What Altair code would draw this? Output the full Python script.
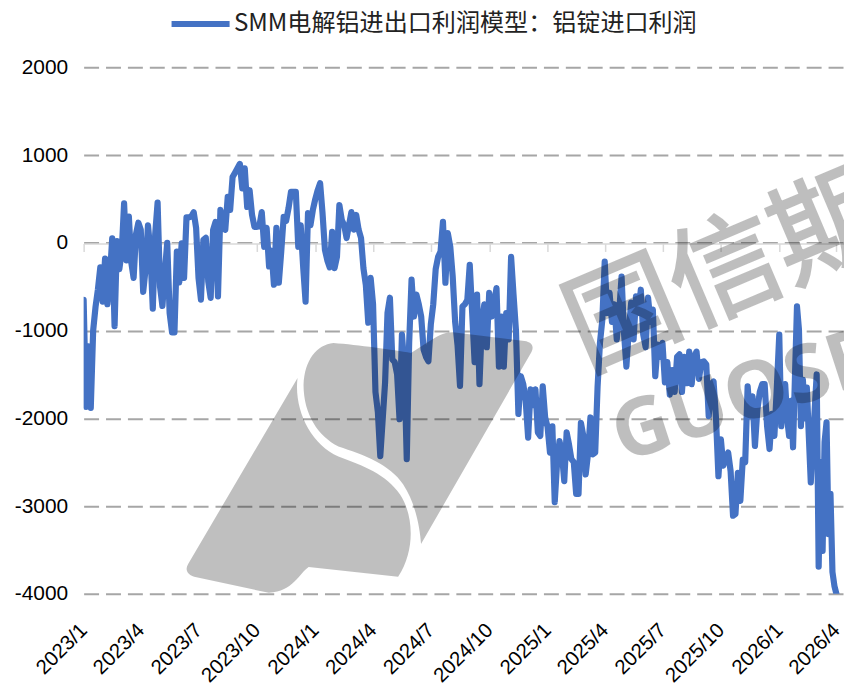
import altair as alt
import pandas as pd

title_text = "SMM电解铝进出口利润模型：铝锭进口利润"
tick_months = ["2023-01-01","2023-04-01","2023-07-01","2023-10-01","2024-01-01","2024-04-01","2024-07-01",
               "2024-10-01","2025-01-01","2025-04-01","2025-07-01","2025-10-01","2026-01-01","2026-04-01"]
y_ticks = [2000,1000,0,-1000,-2000,-3000,-4000]

q01 = [-650,-1870,-1180,-1880,-1000,-730,-530,-280,-670,-180,-700,-400,50,-950,20,-300,-100,450,-200,300,-220,-400,100,230]
q02 = [150,-560,-300,200,-100,-750,100,460,-500,-720,-330,0,-800,-1020,-1020,-100,-450,-5,-400,290,290,300,350,170]
q03 = [-400,-648,34,57,-440,-627,148,239,-610,375,200,148,523,375,750,800,850,900,620,850,409,600,318,182]
q04 = [182,190,350,-45,170,-270,-90,-477,170,-455,-100,295,250,395,580,580,580,-45,200,-270,-670,340,200,375]
q05 = [500,600,680,340,-80,-200,-280,125,-288,-160,430,260,200,55,200,350,150,318,150,55,-290,-480,-910,-400]
q06 = [-700,-1700,-1930,-2430,-2010,-1590,-800,-625,-1330,-1360,-1500,-2010,-1045,-1400,-2465,-1140,-420,-840,-590,-700,-840,-1215,-1300,-1350]
q07 = [-930,-700,-300,-160,-100,240,-455,110,-45,-385,-900,-1170,-1630,-725,-700,-650,-250,-800,-1360,-590,-1610,-900,-700,-1190]
q08 = [-570,-840,-700,-515,-1410,-840,-1410,-800,-1100,-160,-590,-1000,-1950,-1520,-1610,-1800,-2220,-1670,-1850,-1670,-2160,-2200,-1635,-1990]
q09 = [-2100,-2390,-2090,-2955,-2500,-2260,-2400,-2715,-2160,-2300,-2465,-2500,-2860,-2860,-2050,-2200,-2640,-2400,-1990,-2410,-2390,-1640,-1140,-875]
q10 = [-215,-800,-570,-900,-700,-1100,-800,-385,-1020,-1410,-1000,-680,-1100,-610,-800,-534,-1045,-1190,-625,-900,-760,-1520,-1160,-1300]
q11 = [-1140,-1590,-1360,-1730,-1450,-1700,-1300,-1270,-1700,-1300,-1600,-1240,-1610,-1300,-1240,-1550,-1360,-1350,-1385,-1975,-1610,-1580,-2000,-2660]
q12 = [-2240,-2540,-2450,-2390,-2600,-3110,-3090,-2620,-2940,-2470,-2500,-1635,-1975,-1750,-2315,-1900,-1700,-1610,-1610,-2090,-2350,-1950,-2200,-1650]
q13 = [-1045,-2090,-1700,-1610,-2000,-2200,-1800,-2330,-1500,-725,-990,-2090,-1560,-2000,-1650,-2200,-2730,-2300,-1900,-1500,-3690,-2500,-3510,-2270,-2045,-3320,-2860,-3750,-3910,-4000]
quarters = [q01,q02,q03,q04,q05,q06,q07,q08,q09,q10,q11,q12,q13]

dates, values = [], []
for i, q in enumerate(quarters):
    start, end = pd.Timestamp(tick_months[i]), pd.Timestamp(tick_months[i + 1])
    n = len(q) - 1 if i == len(quarters) - 1 else len(q)
    for j, v in enumerate(q):
        dates.append(start + (end - start) * j / n)
        values.append(v)
df = pd.DataFrame({"date": dates, "value": values, "series": title_text})

x_dom = [alt.DateTime(year=2023, month=1, date=1), alt.DateTime(year=2026, month=4, date=13)]
tick_dt = [alt.DateTime(year=int(t[:4]), month=int(t[5:7]), date=1) for t in tick_months]
x_scale = alt.Scale(domain=x_dom, nice=False)
y_scale = alt.Scale(domain=[-4000, 2000], nice=False)
LABEL_FONT = "Liberation Sans"
CJK = "Noto Sans CJK SC"

y_axis = alt.Axis(values=y_ticks, labelExpr="'' + datum.value", domain=False, ticks=False, labelFontSize=21,
                  labelFont=LABEL_FONT, labelColor="#000000", labelPadding=16, grid=True, gridColor="#a6a6a6",
                  gridWidth=2, gridDash=[15, 7])

line = alt.Chart(df).mark_line(strokeWidth=6.2, strokeCap="round", strokeJoin="round", clip=True).encode(
    x=alt.X("date:T", scale=x_scale, title=None, axis=alt.Axis(
        orient="bottom", values=tick_dt, labelExpr="timeFormat(datum.value,'%Y/%-m')", labelAngle=-45,
        labelAlign="right", labelBaseline="middle", labelPadding=33, labelFontSize=20.5, labelFont=LABEL_FONT,
        labelColor="#000000", domain=False, ticks=False, grid=False, labelOverlap=False, labelBound=False,
        labelFlush=False)),
    y=alt.Y("value:Q", scale=y_scale, title=None, axis=y_axis),
    color=alt.Color("series:N", scale=alt.Scale(domain=[title_text], range=["#4472c4"]), legend=alt.Legend(
        title=None, orient="none", legendX=85, legendY=-76, symbolType="stroke", symbolSize=3400,
        symbolStrokeWidth=6, labelOffset=1, labelFontSize=24.2, labelFont=CJK, labelColor="#222222",
        labelLimit=700)),
)

# x axis line at zero: a second axis on the same scale, pulled up to y=0
zero_axis = alt.Chart(df).mark_line(opacity=0).encode(
    x=alt.X("date:T", scale=x_scale, title=None, axis=alt.Axis(
        orient="bottom", values=tick_dt, labels=False, offset=-352, domainColor="#d9d9d9", domainWidth=1.5,
        tickColor="#d9d9d9", tickWidth=1.5, tickSize=8, grid=False, labelOverlap=False)),
    y=alt.Y("value:Q", scale=y_scale, title=None, axis=y_axis),
)

def logo_shape(commands):
    # watermark outline given in picture pixels, normalised to the symbol's [-1, 1] box
    out = []
    for c in commands:
        pts = c[1:]
        coords = " ".join(f"{(pts[k]-363)/177:.3f},{(pts[k+1]-468)/177:.3f}" for k in range(0, len(pts), 2))
        out.append(f"{c[0]}{coords}")
    return " ".join(out) + " Z"

logo_right = [("M",335,343),("C",318,345,306,360,305,385),("C",305,415,320,437,340,447),
              ("C",365,455,392,465,405,485),("C",418,505,422,530,423,545),("L",534,352),
              ("C",537,346,534,342,527,341),("L",455,332),("C",445,332,438,337,430,342),
              ("L",413,353),("C",395,350,360,345,335,343)]
logo_left = [("M",299,378),("C",295,410,312,445,340,457),("C",365,466,388,475,402,495),
             ("C",415,515,418,550,400,578),("L",310,568),("C",300,575,295,592,270,594),
             ("L",195,578),("C",187,575,186,570,189,565)]
logo = [
    alt.Chart(pd.DataFrame({"k": ["logo"]})).mark_point(shape=logo_shape(p), filled=True, size=125316,
                                                        color="#000000", opacity=0.25, strokeWidth=0).encode(
        x=alt.value(279), y=alt.value(402))
    for p in (logo_left, logo_right)
]

mark_cn = alt.Chart(pd.DataFrame({"t": ["国信期"]})).mark_text(
    font=CJK, fontSize=112, fontWeight="normal", angle=337, align="center", baseline="middle",
    color="#000000", stroke="#000000", strokeWidth=2.5, opacity=0.25).encode(
    text="t:N", x=alt.value(646), y=alt.value(208))
mark_en = alt.Chart(pd.DataFrame({"t": ["GUOSEN"]})).mark_text(
    font="Noto Sans", fontSize=80, fontWeight="bold", angle=342, align="left", baseline="middle",
    color="#000000", opacity=0.25).encode(text="t:N", x=alt.value(534), y=alt.value(374))

chart = alt.layer(line, zero_axis, *logo, mark_cn, mark_en).resolve_axis(x="independent").properties(
    width=764, height=529,
    autosize=alt.AutoSizeParams(type="none"),
    padding={"left": 76, "top": 58, "right": 0, "bottom": 94},
).configure_view(stroke=None)

chart.save("out.html", embed_options={"renderer": "svg", "actions": False})
